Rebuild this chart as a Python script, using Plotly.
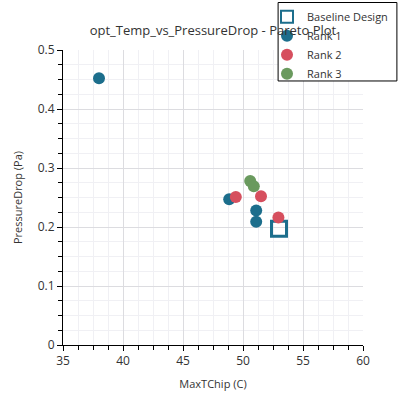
import plotly.graph_objects as go

rank1_x = [38.0, 48.85, 51.1, 51.1]
rank1_y = [0.452, 0.247, 0.228, 0.209]
rank2_x = [49.4, 51.5, 52.95]
rank2_y = [0.251, 0.252, 0.216]
rank3_x = [50.6, 50.9]
rank3_y = [0.278, 0.269]
base_x = [53.0]
base_y = [0.197]

BLUE = "#1c6e8c"
RED = "#d64f5e"
GREEN = "#6a9a5e"

fig = go.Figure()
fig.add_trace(go.Scatter(x=base_x, y=base_y, mode="markers", name="Baseline Design",
                         marker=dict(symbol="square-open", size=15, color=BLUE,
                                     line=dict(width=3, color=BLUE))))
fig.add_trace(go.Scatter(x=rank1_x, y=rank1_y, mode="markers", name="Rank 1",
                         marker=dict(size=12, color=BLUE)))
fig.add_trace(go.Scatter(x=rank2_x, y=rank2_y, mode="markers", name="Rank 2",
                         marker=dict(size=12, color=RED)))
fig.add_trace(go.Scatter(x=rank3_x, y=rank3_y, mode="markers", name="Rank 3",
                         marker=dict(size=12, color=GREEN)))

axis_common = dict(
    showline=True, linecolor="black", linewidth=1,
    ticks="outside", ticklen=5, tickcolor="black",
    showgrid=True, gridcolor="#dcdce0", gridwidth=1,
    zeroline=False, mirror=False,
    tickfont=dict(size=12, color="#333333"),
)

fig.update_layout(
    width=398, height=400,
    margin=dict(l=63, r=35, t=50, b=55, autoexpand=False),
    paper_bgcolor="white", plot_bgcolor="white",
    font=dict(family="Open Sans, DejaVu Sans, sans-serif", color="#333333"),
    title=dict(text="opt_Temp_vs_PressureDrop - Pareto Plot", x=0.535, xanchor="center",
               y=0.925, yanchor="middle", font=dict(size=13, color="#333333")),
    xaxis=dict(range=[35, 60], dtick=5, tick0=35,
               title=dict(text="MaxTChip (C)", font=dict(size=11), standoff=11),
               minor=dict(dtick=1.25, ticks="outside", ticklen=4, tickcolor="black",
                          showgrid=True, gridcolor="#f0f0f4"),
               **axis_common),
    yaxis=dict(range=[0, 0.5], dtick=0.1, tick0=0,
               title=dict(text="PressureDrop (Pa)", font=dict(size=11), standoff=12),
               minor=dict(dtick=0.025, ticks="outside", ticklen=4, tickcolor="black",
                          showgrid=True, gridcolor="#f0f0f4"),
               **axis_common),
    legend=dict(x=0.68, xanchor="left", y=1.162, yanchor="top", xref="paper", yref="paper",
                bgcolor="rgba(0,0,0,0)", borderwidth=0,
                font=dict(size=11, color="#333333"), tracegroupgap=0, itemsizing="constant"),
    showlegend=True,
    shapes=[dict(type="rect", xref="paper", yref="paper", layer="above",
                 x0=0.717, x1=1.113, y0=0.895, y1=1.161,
                 fillcolor="white", line=dict(color="black", width=1))],
)

fig.write_html("out.html", config={"displayModeBar": False},
               post_script="document.body.style.margin='0';")
